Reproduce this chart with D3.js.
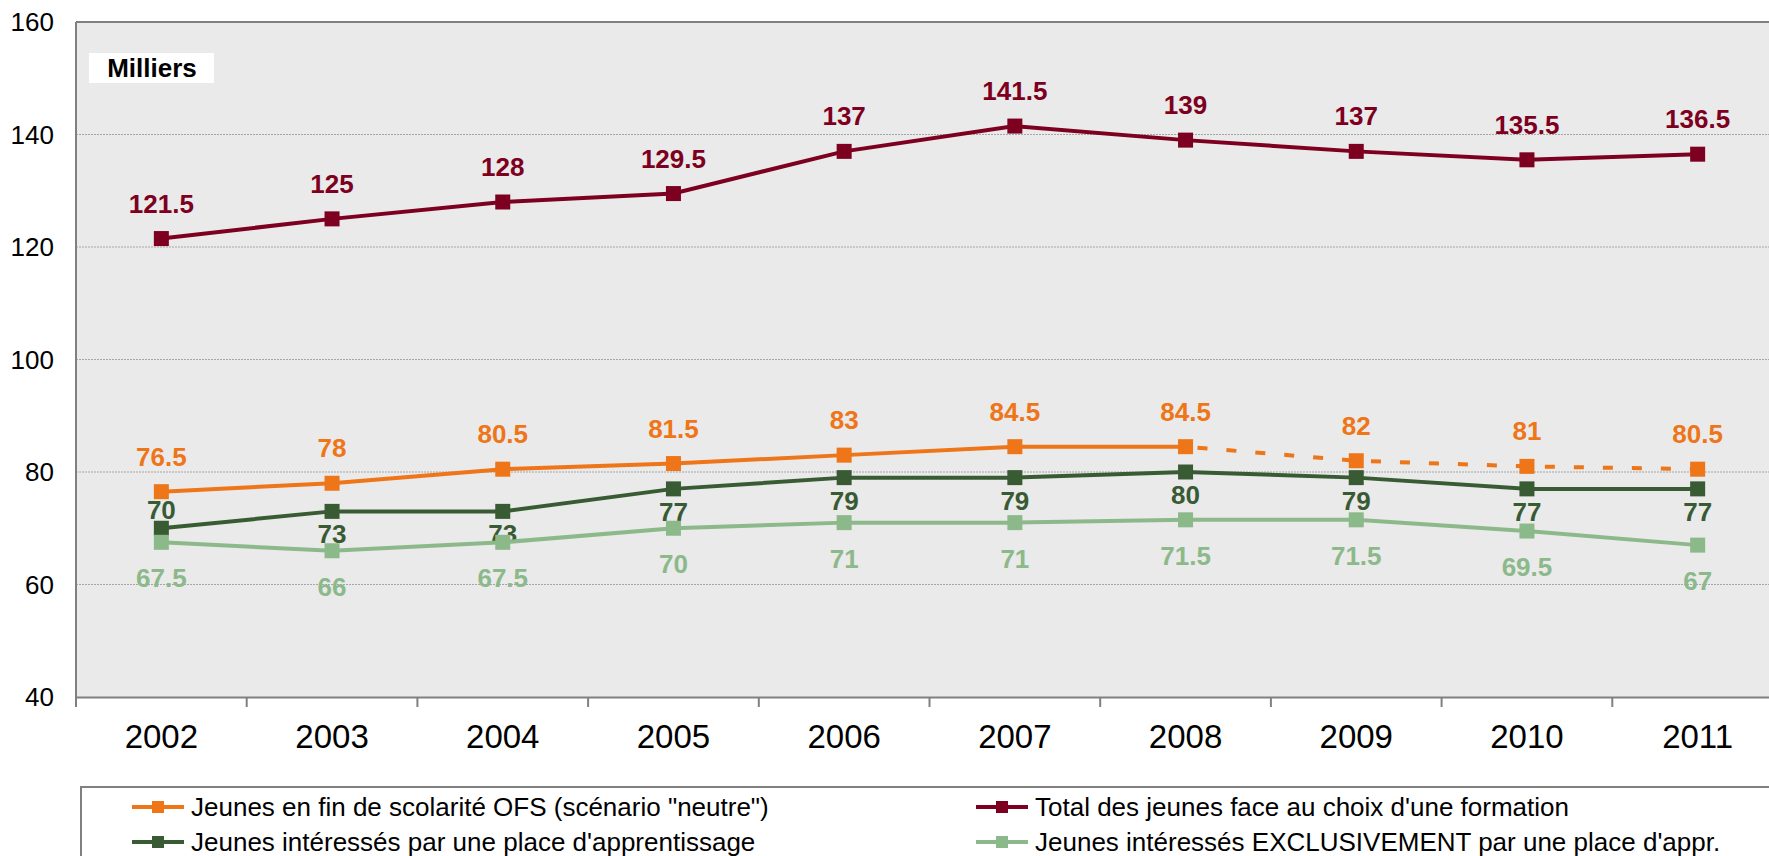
<!DOCTYPE html>
<html><head><meta charset="utf-8">
<script src="https://cdn.jsdelivr.net/npm/d3@7"></script>
<style>
body{margin:0;background:#fff;}
text{font-family:"Liberation Sans",Arial,sans-serif;}
</style></head>
<body><svg id="c" width="1769" height="856"></svg>
<script>
const years = ["2002","2003","2004","2005","2006","2007","2008","2009","2010","2011"];
const total = [121.5,125,128,129.5,137,141.5,139,137,135.5,136.5];
const ofs = [76.5,78,80.5,81.5,83,84.5,84.5,82,81,80.5];
const apprent = [70,73,73,77,79,79,80,79,77,77];
const exclusif = [67.5,66,67.5,70,71,71,71.5,71.5,69.5,67];
const yTicks = [40,60,80,100,120,140,160];
const seriesNames = ["Jeunes en fin de scolarité OFS (scénario \"neutre\")","Total des jeunes face au choix d'une formation","Jeunes intéressés par une place d'apprentissage","Jeunes intéressés EXCLUSIVEMENT par une place d'appr."];
const unitLabel = "Milliers";
const solidUntil = "2008"; // OFS scenario dashed after this year

const colors = {ofs:"#ee7518", total:"#7d0020", appr:"#385b33", excl:"#8cb98a"};

const svg = d3.select("#c");
const L = 76, T = 22, B = 697, R = 76 + 10*170.7;
const x = d3.scaleBand().domain(years).range([L, R]).padding(0);
const y = d3.scaleLinear().domain([40,160]).range([B, T]);

// plot background
svg.append("rect").attr("x",L).attr("y",T).attr("width",R-L).attr("height",B-T).attr("fill","#eaeaea");
// gridlines
svg.append("g").selectAll("line").data(yTicks.filter(v=>v>40 && v<160)).join("line")
  .attr("x1",L).attr("x2",R).attr("y1",d=>y(d)).attr("y2",d=>y(d))
  .attr("stroke","#a6a6a6").attr("stroke-width",1.2).attr("stroke-dasharray","2,1");
// border top / left
svg.append("line").attr("x1",L).attr("x2",R).attr("y1",T).attr("y2",T).attr("stroke","#808080").attr("stroke-width",2);
svg.append("line").attr("x1",L).attr("x2",L).attr("y1",T).attr("y2",B).attr("stroke","#808080").attr("stroke-width",2);

// y axis labels
svg.append("g").selectAll("text").data(yTicks).join("text")
  .attr("x",54).attr("y",d=>y(d)).attr("dy","0.35em").attr("text-anchor","end")
  .attr("font-size",26).attr("fill","#000").text(d=>d);

// x axis
const xAxis = d3.axisBottom(x).tickSize(0).tickFormat(d=>d);
const gx = svg.append("g").attr("transform",`translate(0,${B})`).call(xAxis);
gx.select(".domain").attr("stroke","#808080").attr("stroke-width",2);
gx.selectAll("text").attr("font-size",33).attr("fill","#000").attr("dy","1.45em")
  .style("font-family","\"Liberation Sans\",Arial,sans-serif");
// boundary ticks
const bounds = years.map(d=>x(d)).concat([R]);
svg.append("g").selectAll("line").data(bounds).join("line")
  .attr("x1",d=>d).attr("x2",d=>d).attr("y1",B).attr("y2",B+10)
  .attr("stroke","#808080").attr("stroke-width",2);

// Milliers box
svg.append("rect").attr("x",89).attr("y",53).attr("width",125).attr("height",30).attr("fill","#fff");
svg.append("text").attr("x",152).attr("y",68).attr("dy","0.35em").attr("text-anchor","middle")
  .attr("font-size",26).attr("font-weight","bold").attr("fill","#000").text(unitLabel);

const cx = d => x(d) + x.bandwidth()/2;
const line = d3.line().x(d=>cx(d.year)).y(d=>y(d.v));

function drawSeries(vals, color, labelOffsets, dashFrom){
  const pts = years.map((yr,i)=>({year:yr, v:vals[i], i}));
  const g = svg.append("g");
  if(dashFrom){
    const k = years.indexOf(dashFrom);
    g.append("path").attr("d",line(pts.slice(0,k+1))).attr("fill","none").attr("stroke",color).attr("stroke-width",4);
    g.append("path").attr("d",line(pts.slice(k))).attr("fill","none").attr("stroke",color).attr("stroke-width",4).attr("stroke-dasharray","10,19").attr("stroke-dashoffset",-12);
  } else {
    g.append("path").attr("d",line(pts)).attr("fill","none").attr("stroke",color).attr("stroke-width",4);
  }
  g.selectAll("rect").data(pts).join("rect")
    .attr("x",d=>cx(d.year)-7.5).attr("y",d=>y(d.v)-7.5).attr("width",15).attr("height",15).attr("fill",color);
  g.selectAll("text").data(pts).join("text")
    .attr("x",d=>cx(d.year)).attr("y",d=>y(d.v)+labelOffsets(d.i))
    .attr("text-anchor","middle").attr("font-size",26).attr("font-weight","bold").attr("fill",color)
    .text(d=>d.v);
}
drawSeries(ofs, colors.ofs, ()=>-26, solidUntil);
drawSeries(total, colors.total, ()=>-26);
drawSeries(apprent, colors.appr, i=> i===0 ? -9 : 32);
drawSeries(exclusif, colors.excl, ()=>45);

// legend
svg.append("rect").attr("x",81).attr("y",787).attr("width",1760).attr("height",120)
  .attr("fill","#fff").attr("stroke","#808080").attr("stroke-width",2);
const legItems = [
  {name:seriesNames[0], color:colors.ofs, lx:132, ly:807},
  {name:seriesNames[1], color:colors.total, lx:976, ly:807},
  {name:seriesNames[2], color:colors.appr, lx:132, ly:842},
  {name:seriesNames[3], color:colors.excl, lx:976, ly:842}
];
const lg = svg.append("g").selectAll("g").data(legItems).join("g");
lg.append("line").attr("x1",d=>d.lx).attr("x2",d=>d.lx+52).attr("y1",d=>d.ly).attr("y2",d=>d.ly)
  .attr("stroke",d=>d.color).attr("stroke-width",4);
lg.append("rect").attr("x",d=>d.lx+20).attr("y",d=>d.ly-6).attr("width",12).attr("height",12).attr("fill",d=>d.color);
lg.append("text").attr("x",d=>d.lx+59).attr("y",d=>d.ly).attr("dy","0.35em")
  .attr("font-size",26).attr("fill","#000").text(d=>d.name);
</script>
</body></html>
